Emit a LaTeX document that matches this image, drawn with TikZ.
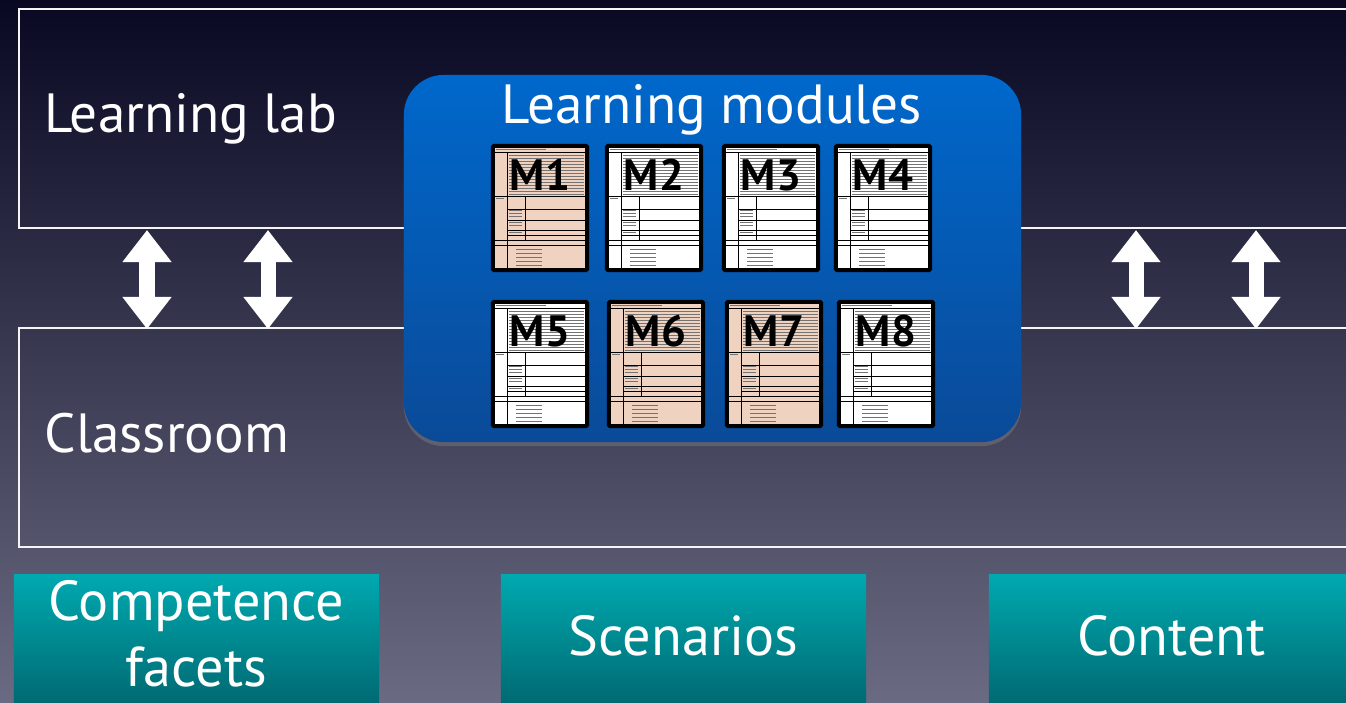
\documentclass[tikz,border=0pt]{standalone}
\usepackage{fontspec}
\setmainfont{PT Sans}
\usetikzlibrary{arrows.meta,shadows}

\definecolor{bgtop}{HTML}{080822}
\definecolor{bgbot}{HTML}{6A6A82}
\definecolor{modtop}{HTML}{0068CC}
\definecolor{modbot}{HTML}{0A4A98}
\definecolor{tealtop}{HTML}{00A9B0}
\definecolor{tealbot}{HTML}{00646C}
\definecolor{peach}{HTML}{F0D2C0}

\tikzset{
    sheetbox/.style={draw=black,line width=0.04cm,rounded corners=0.01cm,
        minimum width=0.94cm,minimum height=1.24cm,inner sep=0pt},
    sheetrule/.style={black,line width=0.01cm},
    sheettext/.style={black!55,line width=0.008cm},
    modlabel/.style={font=\fontsize{12.5}{14}\selectfont\bfseries,text=black,inner sep=0pt},
    pics/modsheet/.style 2 args={code={
        \node[sheetbox,fill=#1] (-box) {};
        % text of the sheet
        \draw[sheettext] (-44,-59) -- (6,-59);
        \foreach \yy in {-53,-50,...,-14} \draw[sheettext] (-31,\yy) -- (44,\yy);
        \foreach \yy in {2,5,8,14,17,24,27} \draw[sheettext] (-31,\yy) -- (-18,\yy);
        \foreach \yy in {41,45,49,53,57} \draw[sheettext] (-24,\yy) -- (2,\yy);
        \draw[sheettext] (-44,-10) -- (-36,-10);
        % rules of the sheet
        \draw[sheetrule] (-45,-56) -- (45,-56);
        \draw[sheetrule] (-33,-56) -- (-33,61);
        \draw[sheetrule] (-45,-12) -- (45,-12);
        \draw[sheetrule] (-15,-12) -- (-15,32);
        \foreach \yy in {1,12,22,27} \draw[sheetrule] (-33,\yy) -- (45,\yy);
        \draw[sheetrule] (-45,32) -- (45,32);
        \draw[sheetrule] (-45,37) -- (45,37);
        \node[modlabel] at (0,-33) {#2};
    }}
}

\begin{document}
\begin{tikzpicture}[x=0.01cm,y=-0.01cm,
        zone/.style={draw=white!92!gray,line width=0.02cm,inner sep=0pt},
        zonelabel/.style={text=white,font=\fontsize{15.7}{18}\selectfont,anchor=base west,inner sep=0pt},
        modbox/.style={rounded corners=0.4cm,top color=modtop,bottom color=modbot,
            minimum width=6.17cm,minimum height=3.67cm,
            drop shadow={shadow xshift=0cm,shadow yshift=-0.04cm,opacity=0.45}},
        basebox/.style={top color=tealtop,bottom color=tealbot,
            minimum width=3.65cm,minimum height=1.40cm,anchor=north,
            drop shadow={shadow xshift=0cm,shadow yshift=-0.02cm,opacity=0.35}},
        boxtext/.style={text=white,align=center,inner sep=0pt,
            font=\fontsize{16}{18.8}\selectfont},
        updown/.style={white,line width=0.15cm,
            {Triangle[width=0.47cm,length=0.32cm]}-{Triangle[width=0.47cm,length=0.32cm]}}]

    \useasboundingbox (0,0) rectangle (1346,702);
    \fill[top color=bgtop,bottom color=bgbot] (0,0) rectangle (1346,702);

    % lab and classroom
    \node[zone,anchor=north west,minimum width=13.5cm,minimum height=2.19cm] (lab) at (18,8) {};
    \node[zone,anchor=north west,minimum width=13.5cm,minimum height=2.19cm] (class) at (18,327) {};
    \node[zonelabel] (labtext) at (44,132) {Learning lab};
    \node[zonelabel] (classtext) at (44,452) {Classroom};

    % arrows between lab and classroom
    \foreach \i/\x in {1/147,2/268,3/1136,4/1256} {
        \coordinate (up\i) at (\x,230);
        \coordinate (dn\i) at (\x,329);
        \draw[updown] (up\i) -- (dn\i);
    }

    % learning modules
    \node[modbox] (modules) at (712.5,258.5) {};
    \node[zonelabel,anchor=base] (modtext) at (712,123) {Learning modules};
    \foreach \i/\x/\y/\col in {1/540/208/peach,2/654/208/white,3/771/208/white,4/883/208/white,
                               5/540/364/white,6/656/364/peach,7/774/364/peach,8/886/364/white}
        \pic (m\i) at (\x,\y) {modsheet={\col}{M\i}};

    % bottom boxes
    \node[basebox,label={[boxtext,yshift=0.11cm]center:{Competence\\facets}}] (facets) at (196.5,574) {};
    \node[basebox,label={[boxtext,yshift=0.09cm]center:Scenarios}] (scen) at (683.5,574) {};
    \node[basebox,label={[boxtext,yshift=0.09cm]center:Content}] (content) at (1171.5,574) {};
\end{tikzpicture}
\end{document}
